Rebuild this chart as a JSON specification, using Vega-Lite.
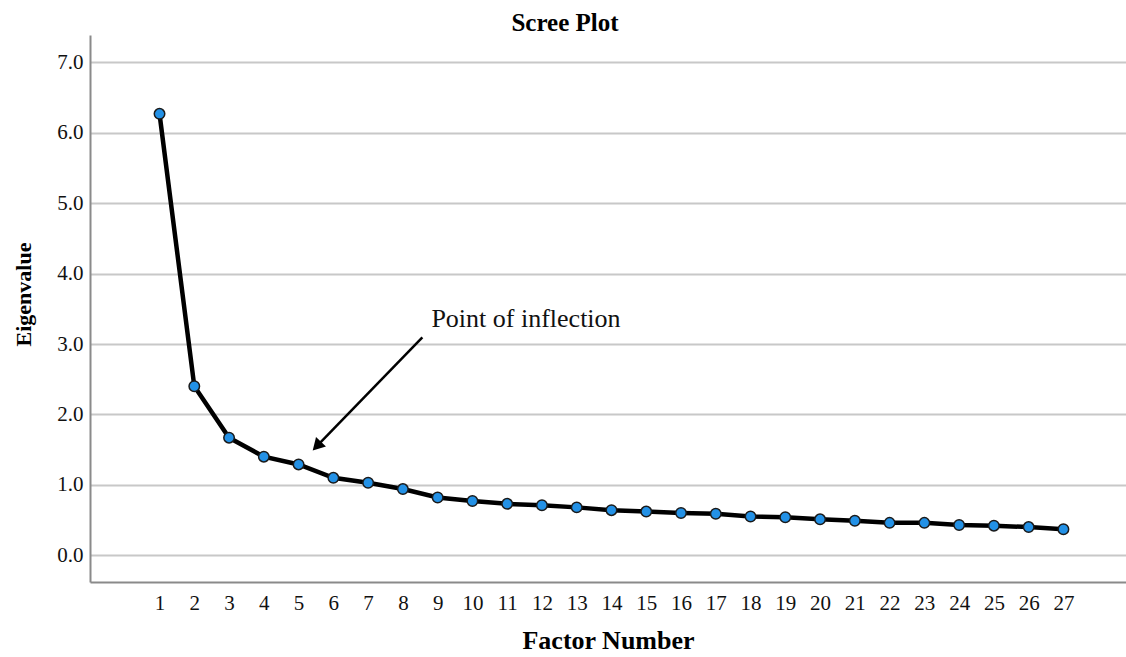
{
  "$schema": "https://vega.github.io/schema/vega-lite/v6.json",
  "width": 1036,
  "height": 547,
  "autosize": {"type": "none"},
  "padding": {"left": 90, "top": 35, "right": 0, "bottom": 75},
  "background": "white",
  "title": {"text": "Scree Plot", "font": "Liberation Serif", "fontSize": 25, "fontWeight": "bold", "color": "#000000", "anchor": "middle", "dx": -43, "offset": -1},
  "config": {
    "view": {"stroke": null},
    "axis": {
      "labelFont": "Liberation Serif", "labelFontSize": 21, "labelColor": "#111111",
      "titleFont": "Liberation Serif", "titleFontWeight": "bold", "titleColor": "#000000",
      "domainColor": "#8a8a8a", "domainWidth": 2, "ticks": false, "tickSize": 0
    }
  },
  "datasets": {
    "scree": [
      {"factor": 1, "eigen": 6.27}, {"factor": 2, "eigen": 2.40}, {"factor": 3, "eigen": 1.67},
      {"factor": 4, "eigen": 1.40}, {"factor": 5, "eigen": 1.29}, {"factor": 6, "eigen": 1.10},
      {"factor": 7, "eigen": 1.03}, {"factor": 8, "eigen": 0.94}, {"factor": 9, "eigen": 0.82},
      {"factor": 10, "eigen": 0.77}, {"factor": 11, "eigen": 0.73}, {"factor": 12, "eigen": 0.71},
      {"factor": 13, "eigen": 0.68}, {"factor": 14, "eigen": 0.64}, {"factor": 15, "eigen": 0.62},
      {"factor": 16, "eigen": 0.60}, {"factor": 17, "eigen": 0.59}, {"factor": 18, "eigen": 0.55},
      {"factor": 19, "eigen": 0.54}, {"factor": 20, "eigen": 0.51}, {"factor": 21, "eigen": 0.49},
      {"factor": 22, "eigen": 0.46}, {"factor": 23, "eigen": 0.46}, {"factor": 24, "eigen": 0.43},
      {"factor": 25, "eigen": 0.42}, {"factor": 26, "eigen": 0.40}, {"factor": 27, "eigen": 0.37}
    ],
    "arrow": [{"factor": 8.56, "eigen": 3.095, "factor2": 5.525, "eigen2": 1.55}],
    "head": [{"factor": 5.525, "eigen": 1.55}],
    "label": [{"factor": 8.82, "eigen": 3.245, "text": "Point of inflection"}]
  },
  "encoding": {
    "x": {"field": "factor", "type": "quantitative", "title": "Factor Number",
      "scale": {"domain": [-1, 28.8], "nice": false, "zero": false},
      "axis": {"values": [1,2,3,4,5,6,7,8,9,10,11,12,13,14,15,16,17,18,19,20,21,22,23,24,25,26,27], "grid": false, "labelPadding": 10, "titlePadding": 14, "titleFontSize": 26, "labelFlush": false, "labelOverlap": false}},
    "y": {"field": "eigen", "type": "quantitative", "title": "Eigenvalue",
      "scale": {"domain": [-0.38, 7.39], "nice": false, "zero": false},
      "axis": {"values": [0,1,2,3,4,5,6,7], "format": ".1f", "grid": true, "gridColor": "#c8c8c8", "gridWidth": 2, "labelPadding": 7, "titlePadding": 21, "titleFontSize": 22, "titleY": 259, "labelFlush": false, "labelOverlap": false}}
  },
  "layer": [
    {"data": {"name": "scree"}, "mark": {"type": "line", "color": "#000000", "strokeWidth": 4.5}},
    {"data": {"name": "scree"}, "mark": {"type": "point", "filled": true, "fill": "#2391e6", "stroke": "#1a1a1a", "strokeWidth": 1.5, "size": 110, "opacity": 1}},
    {"data": {"name": "arrow"}, "mark": {"type": "rule", "color": "#000000", "strokeWidth": 2.5},
      "encoding": {"x2": {"field": "factor2"}, "y2": {"field": "eigen2"}}},
    {"data": {"name": "head"}, "mark": {"type": "point", "shape": "triangle-up", "filled": true, "fill": "#000000", "size": 190, "angle": 224, "opacity": 1}},
    {"data": {"name": "label"}, "mark": {"type": "text", "font": "Liberation Serif", "fontSize": 26, "align": "left", "baseline": "alphabetic", "color": "#111111"},
      "encoding": {"text": {"field": "text"}}}
  ]
}
